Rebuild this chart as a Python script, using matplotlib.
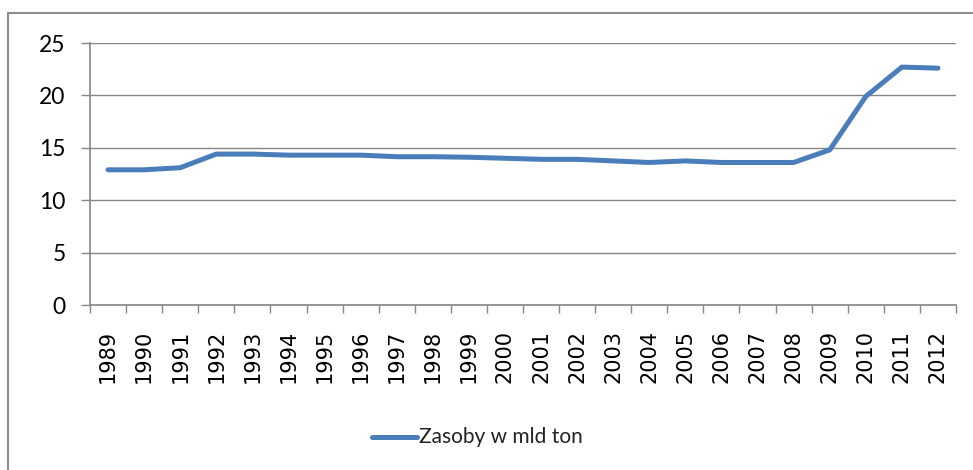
import matplotlib
matplotlib.use('Agg')
import matplotlib.pyplot as plt
from matplotlib.patches import Rectangle
from matplotlib.lines import Line2D

# Dane
lata = ['1989', '1990', '1991', '1992', '1993', '1994', '1995', '1996',
        '1997', '1998', '1999', '2000', '2001', '2002', '2003', '2004',
        '2005', '2006', '2007', '2008', '2009', '2010', '2011', '2012']
zasoby = [12.9, 12.9, 13.1, 14.4, 14.4, 14.3, 14.3, 14.3,
          14.15, 14.15, 14.1, 14.0, 13.9, 13.9, 13.75, 13.6,
          13.75, 13.6, 13.6, 13.6, 14.8, 19.9, 22.7, 22.6]
etykieta = 'Zasoby w mld ton'

kolor = '#4a7ebb'
szary = '#868686'

fig = plt.figure(figsize=(9.73, 4.70), dpi=100)
ax = fig.add_axes([90/973, 1-305/470, 866/973, 262/470])

x = list(range(len(lata)))
ax.plot(x, zasoby, color=kolor, linewidth=3.6, solid_capstyle='round',
        solid_joinstyle='round')

ax.set_xlim(-0.5, len(lata)-0.5)
ax.set_ylim(0, 25)
ax.set_yticks([0, 5, 10, 15, 20, 25])
ax.grid(axis='y', color=szary, linewidth=1)
ax.set_axisbelow(True)

# etykiety lat w środku, kreski na granicach kategorii
ax.set_xticks(x)
ax.set_xticklabels(lata, rotation=90, family='DejaVu Sans', fontsize=15)
ax.tick_params(axis='x', which='major', length=0, pad=18)
ax.set_xticks([i-0.5 for i in range(len(lata)+1)], minor=True)
ax.tick_params(axis='x', which='minor', length=5.5, width=1, color=szary, direction='out')

for t in ax.get_yticklabels():
    t.set_family('Lato')
    t.set_fontsize(16.5)
ax.tick_params(axis='y', length=6.5, width=1, color=szary, pad=11)

for s in ['top', 'right']:
    ax.spines[s].set_visible(False)
for s in ['left', 'bottom']:
    ax.spines[s].set_color(szary)
    ax.spines[s].set_linewidth(1.2)

# ramka całego wykresu (ucięta z prawej i na dole)
fig.patches.append(Rectangle((8/973, -0.1), 1.1, 1-13/470+0.1,
                             transform=fig.transFigure, fill=False,
                             edgecolor='#8c8c8c', linewidth=1.5))

# legenda
fig.add_artist(Line2D([372/973, 417/973], [1-437/470, 1-437/470],
                      color=kolor, linewidth=3.6, solid_capstyle='round'))
fig.text(419/973, 1-437/470, etykieta, family='Lato', fontsize=15,
         va='center', ha='left', color='#222222')

fig.savefig('out.png', dpi=100)
